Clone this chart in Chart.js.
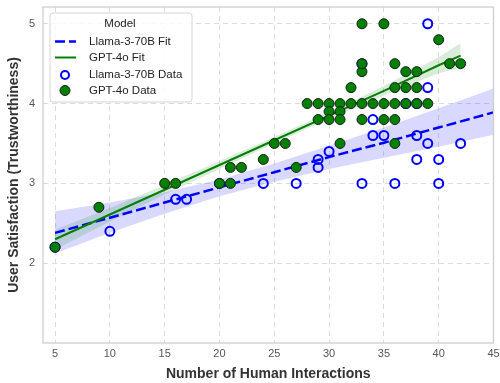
<!DOCTYPE html>
<html>
<head>
<meta charset="utf-8">
<script src="https://cdn.jsdelivr.net/npm/chart.js@4.4.1/dist/chart.umd.min.js"></script>
<style>
    body { margin: 0; background: #fff; }
</style>
</head>
<body>
<canvas id="scatter-chart" width="500" height="383"></canvas>
<script>
// Llama-3-70B 数据点
const llamaX = [5, 10, 16, 17, 20, 24, 27, 29, 29, 30, 33, 33, 34, 34, 35, 36, 37, 38, 38, 38, 39, 39, 39, 40, 40, 42];
const llamaY = [2.2, 2.4, 2.8, 2.8, 3.0, 3.0, 3.0, 3.2, 3.3, 3.4, 3.0, 4.5, 3.6, 3.8, 3.6, 3.0, 4.0, 4.0, 3.6, 3.3, 3.5, 4.2, 5.0, 3.3, 3.0, 3.5];

// GPT-4o 数据点
const gptX = [5, 9, 15, 16, 20, 21, 21, 22, 24, 25, 26, 27,
    28, 29, 30, 31, 32, 33, 34, 35, 36, 37, 38, 39,
    30, 31, 29, 30, 31, 33, 35, 36, 31, 36,
    32, 36, 37, 38, 33, 37, 38, 33, 36, 41, 42, 40, 33, 35];
const gptY = [2.2, 2.7, 3.0, 3.0, 3.0, 3.0, 3.2, 3.2, 3.3, 3.5, 3.5, 3.2,
    4.0, 4.0, 4.0, 4.0, 4.0, 4.0, 4.0, 4.0, 4.0, 4.0, 4.0, 4.0,
    3.9, 3.9, 3.8, 3.8, 3.8, 3.8, 3.8, 3.8, 3.5, 3.5,
    4.2, 4.2, 4.2, 4.2, 4.4, 4.4, 4.4, 4.5, 4.5, 4.5, 4.5, 4.8, 5.0, 5.0];

// 拟合线和置信区间
const llamaFitX = [5, 10, 15, 20, 25, 30, 35, 40, 45];
const llamaFit = [2.38, 2.57, 2.76, 2.95, 3.14, 3.33, 3.51, 3.70, 3.89];
const llamaUpper = [2.65, 2.76, 2.89, 3.05, 3.25, 3.47, 3.70, 3.94, 4.19];
const llamaLower = [2.12, 2.38, 2.62, 2.84, 3.02, 3.18, 3.32, 3.46, 3.61];

const gptFitX = [5, 10, 15, 20, 25, 30, 35, 40, 42];
const gptFit = [2.30, 2.61, 2.92, 3.23, 3.54, 3.85, 4.16, 4.48, 4.60];
const gptUpper = [2.42, 2.69, 2.98, 3.28, 3.58, 3.89, 4.22, 4.58, 4.76];
const gptLower = [2.17, 2.52, 2.86, 3.18, 3.50, 3.81, 4.10, 4.38, 4.45];

// 坐标轴刻度
const xTicks = [5, 10, 15, 20, 25, 30, 35, 40, 45];
const yTicks = [2, 3, 4, 5];

const BLUE = '#0000ff';
const GREEN = '#008000';
const FONT = "'Liberation Sans', Arial, sans-serif";

function pts(xs, ys) {
    return xs.map((x, i) => ({ x: x, y: ys[i] }));
}

// 外框
const framePlugin = {
    id: 'frame',
    afterDatasetsDraw(chart) {
        const { ctx, chartArea: a } = chart;
        ctx.save();
        ctx.strokeStyle = '#cccccc';
        ctx.lineWidth = 1.25;
        ctx.strokeRect(a.left, a.top, a.right - a.left, a.bottom - a.top);
        ctx.restore();
    }
};

// 图例 (画在绘图区内部左上角)
const legendPlugin = {
    id: 'innerLegend',
    afterDraw(chart) {
        const ctx = chart.ctx;
        ctx.save();
        const x0 = 50, y0 = 13, w = 142, h = 89;
        ctx.beginPath();
        ctx.roundRect(x0, y0, w, h, 3);
        ctx.fillStyle = 'rgba(255,255,255,0.85)';
        ctx.fill();
        ctx.strokeStyle = '#d6d6d6';
        ctx.lineWidth = 1;
        ctx.stroke();

        ctx.font = '11.5px ' + FONT;
        ctx.fillStyle = '#222';
        ctx.textBaseline = 'middle';
        ctx.textAlign = 'center';
        ctx.fillText('Model', 120, 24);

        ctx.textAlign = 'left';
        const rows = [
            { y: 41.5, text: 'Llama-3-70B Fit' },
            { y: 57.5, text: 'GPT-4o Fit' },
            { y: 75, text: 'Llama-3-70B Data' },
            { y: 90.5, text: 'GPT-4o Data' }
        ];
        rows.forEach(r => ctx.fillText(r.text, 89, r.y));

        // 虚线
        ctx.strokeStyle = BLUE;
        ctx.lineWidth = 2.5;
        ctx.setLineDash([10, 4]);
        ctx.beginPath();
        ctx.moveTo(55, 41.5);
        ctx.lineTo(76, 41.5);
        ctx.stroke();
        ctx.setLineDash([]);

        // 实线
        ctx.strokeStyle = GREEN;
        ctx.lineWidth = 2;
        ctx.beginPath();
        ctx.moveTo(55, 57.5);
        ctx.lineTo(76, 57.5);
        ctx.stroke();

        // 空心圆
        ctx.strokeStyle = BLUE;
        ctx.lineWidth = 2;
        ctx.beginPath();
        ctx.arc(65, 75, 4, 0, Math.PI * 2);
        ctx.stroke();

        // 实心圆
        ctx.fillStyle = GREEN;
        ctx.strokeStyle = '#1a1a1a';
        ctx.lineWidth = 1;
        ctx.beginPath();
        ctx.arc(65, 90.5, 5, 0, Math.PI * 2);
        ctx.fill();
        ctx.stroke();
        ctx.restore();
    }
};

const canvas = document.getElementById('scatter-chart');

new Chart(canvas, {
    type: 'scatter',
    data: {
        datasets: [
            {
                label: 'GPT-4o Data',
                data: pts(gptX, gptY),
                backgroundColor: GREEN,
                borderColor: '#1a1a1a',
                borderWidth: 1,
                pointRadius: 5,
                order: 0
            },
            {
                label: 'Llama-3-70B Data',
                data: pts(llamaX, llamaY),
                backgroundColor: 'rgba(0,0,0,0)',
                borderColor: BLUE,
                borderWidth: 2,
                pointRadius: 4.5,
                order: 1
            },
            {
                label: 'GPT-4o Fit',
                data: pts(gptFitX, gptFit),
                showLine: true,
                borderColor: GREEN,
                borderWidth: 2,
                pointRadius: 0,
                order: 2
            },
            {
                label: 'Llama-3-70B Fit',
                data: pts(llamaFitX, llamaFit),
                showLine: true,
                borderColor: BLUE,
                borderWidth: 2.5,
                borderDash: [10, 4],
                pointRadius: 0,
                order: 3
            },
            {
                label: 'gpt-upper',
                data: pts(gptFitX, gptUpper),
                showLine: true,
                borderWidth: 0,
                borderColor: 'rgba(0,0,0,0)',
                backgroundColor: 'rgba(0,128,0,0.15)',
                pointRadius: 0,
                fill: '+1',
                order: 4
            },
            {
                label: 'gpt-lower',
                data: pts(gptFitX, gptLower),
                showLine: true,
                borderWidth: 0,
                borderColor: 'rgba(0,0,0,0)',
                pointRadius: 0,
                fill: false,
                order: 5
            },
            {
                label: 'llama-upper',
                data: pts(llamaFitX, llamaUpper),
                showLine: true,
                borderWidth: 0,
                borderColor: 'rgba(0,0,0,0)',
                backgroundColor: 'rgba(0,0,255,0.15)',
                pointRadius: 0,
                fill: '+1',
                order: 6
            },
            {
                label: 'llama-lower',
                data: pts(llamaFitX, llamaLower),
                showLine: true,
                borderWidth: 0,
                borderColor: 'rgba(0,0,0,0)',
                pointRadius: 0,
                fill: false,
                order: 7
            }
        ]
    },
    options: {
        responsive: false,
        animation: false,
        layout: {
            padding: { top: 7, right: 4, left: 0, bottom: 0 }
        },
        plugins: {
            legend: { display: false },
            tooltip: { enabled: false }
        },
        scales: {
            x: {
                type: 'linear',
                min: 3.9,
                max: 45,
                afterBuildTicks: s => { s.ticks = xTicks.map(v => ({ value: v })); },
                afterFit: s => { s.height = 40; s.paddingLeft = 0; s.paddingRight = 0; },
                ticks: {
                    font: { family: FONT, size: 11 },
                    color: '#555',
                    padding: 4
                },
                grid: {
                    color: '#dcdcdc',
                    drawTicks: false
                },
                border: { display: false, dash: [5, 4] },
                title: {
                    display: true,
                    text: 'Number of Human Interactions',
                    font: { family: FONT, size: 14, weight: 'bold' },
                    color: '#333',
                    padding: { top: 0, bottom: 0 }
                }
            },
            y: {
                type: 'linear',
                min: 1.0,
                max: 5.21,
                afterBuildTicks: s => { s.ticks = yTicks.map(v => ({ value: v })); },
                afterFit: s => { s.width = 43; s.paddingTop = 0; s.paddingBottom = 0; },
                ticks: {
                    font: { family: FONT, size: 11 },
                    color: '#555',
                    padding: 8
                },
                grid: {
                    color: '#dcdcdc',
                    drawTicks: false
                },
                border: { display: false, dash: [5, 4] },
                title: {
                    display: true,
                    text: 'User Satisfaction (Trustworthiness)',
                    font: { family: FONT, size: 14, weight: 'bold' },
                    color: '#333',
                    padding: { top: 6, bottom: 0 }
                }
            }
        }
    },
    plugins: [framePlugin, legendPlugin]
});
</script>
</body>
</html>
